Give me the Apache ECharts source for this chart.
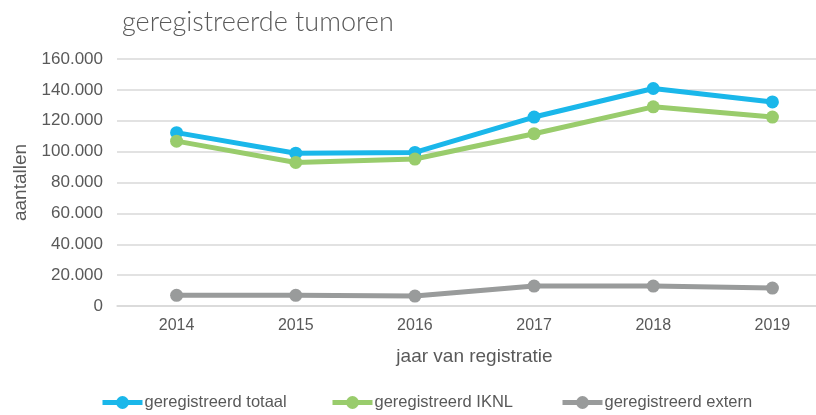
<!DOCTYPE html>
<html lang="nl">
<head>
  <meta charset="utf-8">
  <title>geregistreerde tumoren</title>
  <style>
    html, body { margin: 0; padding: 0; background: #fff; overflow: hidden; }
    #chart { width: 832px; height: 415px; }
  </style>
</head>
<body>
  <div id="chart"></div>
  <script src="https://cdn.jsdelivr.net/npm/echarts@6/dist/echarts.min.js"></script>
  <script>
    var years = ['2014', '2015', '2016', '2017', '2018', '2019'];
    var totaal = [112300, 99000, 99500, 122400, 140900, 132200];
    var iknl = [106800, 93000, 95200, 111600, 129000, 122400];
    var extern = [6900, 6900, 6450, 12900, 12900, 11600];
    var seriesNames = ['geregistreerd totaal', 'geregistreerd IKNL', 'geregistreerd extern'];
    var colors = ['#1ab7ea', '#99cc6c', '#999b9b'];

    var textColor = '#595959';
    var font = '"Liberation Sans", Arial, sans-serif';

    function fmt(v) {
      return String(v).replace(/\B(?=(\d{3})+(?!\d))/g, '.');
    }

    function makeLine(name, data, color) {
      return {
        name: name,
        type: 'line',
        data: data,
        symbol: 'circle',
        symbolSize: 13,
        color: color,
        lineStyle: { width: 5, color: color },
        itemStyle: { color: color }
      };
    }

    // excel spaces the legend items a bit unevenly, so one legend per item
    var legendLeft = [95, 325, 555];
    var legends = seriesNames.map(function (name, i) {
      return {
        data: [name],
        left: legendLeft[i],
        bottom: -1,
        itemWidth: 40,
        itemHeight: 16,
        lineStyle: { width: 5 },
        textStyle: { fontFamily: font, fontSize: 16.5, color: textColor, padding: [0, 0, 0, -3] }
      };
    });

    var plot = echarts.init(document.getElementById('chart'));

    var option = {
      animation: false,
      title: {
        text: 'geregistreerde tumoren',
        left: 117,
        top: 4,
        textStyle: {
          fontFamily: 'Lato, "Open Sans", sans-serif',
          fontWeight: 300,
          fontSize: 27,
          color: textColor
        }
      },
      legend: legends,
      grid: {
        left: 117,
        right: 0,
        top: 59,
        bottom: 109
      },
      xAxis: {
        type: 'category',
        data: years,
        name: 'jaar van registratie',
        nameLocation: 'center',
        nameGap: 41,
        nameTextStyle: { fontFamily: font, fontSize: 19, color: textColor },
        axisLine: { lineStyle: { color: '#d9d9d9', width: 1.5 } },
        axisTick: { show: false },
        axisLabel: { fontFamily: font, fontSize: 16, color: textColor, margin: 12 }
      },
      yAxis: {
        type: 'value',
        min: 0,
        max: 160000,
        interval: 20000,
        name: 'aantallen',
        nameLocation: 'center',
        nameGap: 85,
        nameRotate: 90,
        nameTextStyle: { fontFamily: font, fontSize: 19, color: textColor },
        axisLine: { show: false },
        axisTick: { show: false },
        splitLine: { lineStyle: { color: '#d9d9d9', width: 1.5 } },
        axisLabel: {
          fontFamily: font, fontSize: 17, color: textColor, margin: 14,
          formatter: fmt
        }
      },
      series: [
        makeLine(seriesNames[0], totaal, colors[0]),
        makeLine(seriesNames[1], iknl, colors[1]),
        makeLine(seriesNames[2], extern, colors[2])
      ]
    };

    plot.setOption(option);
  </script>
</body>
</html>
